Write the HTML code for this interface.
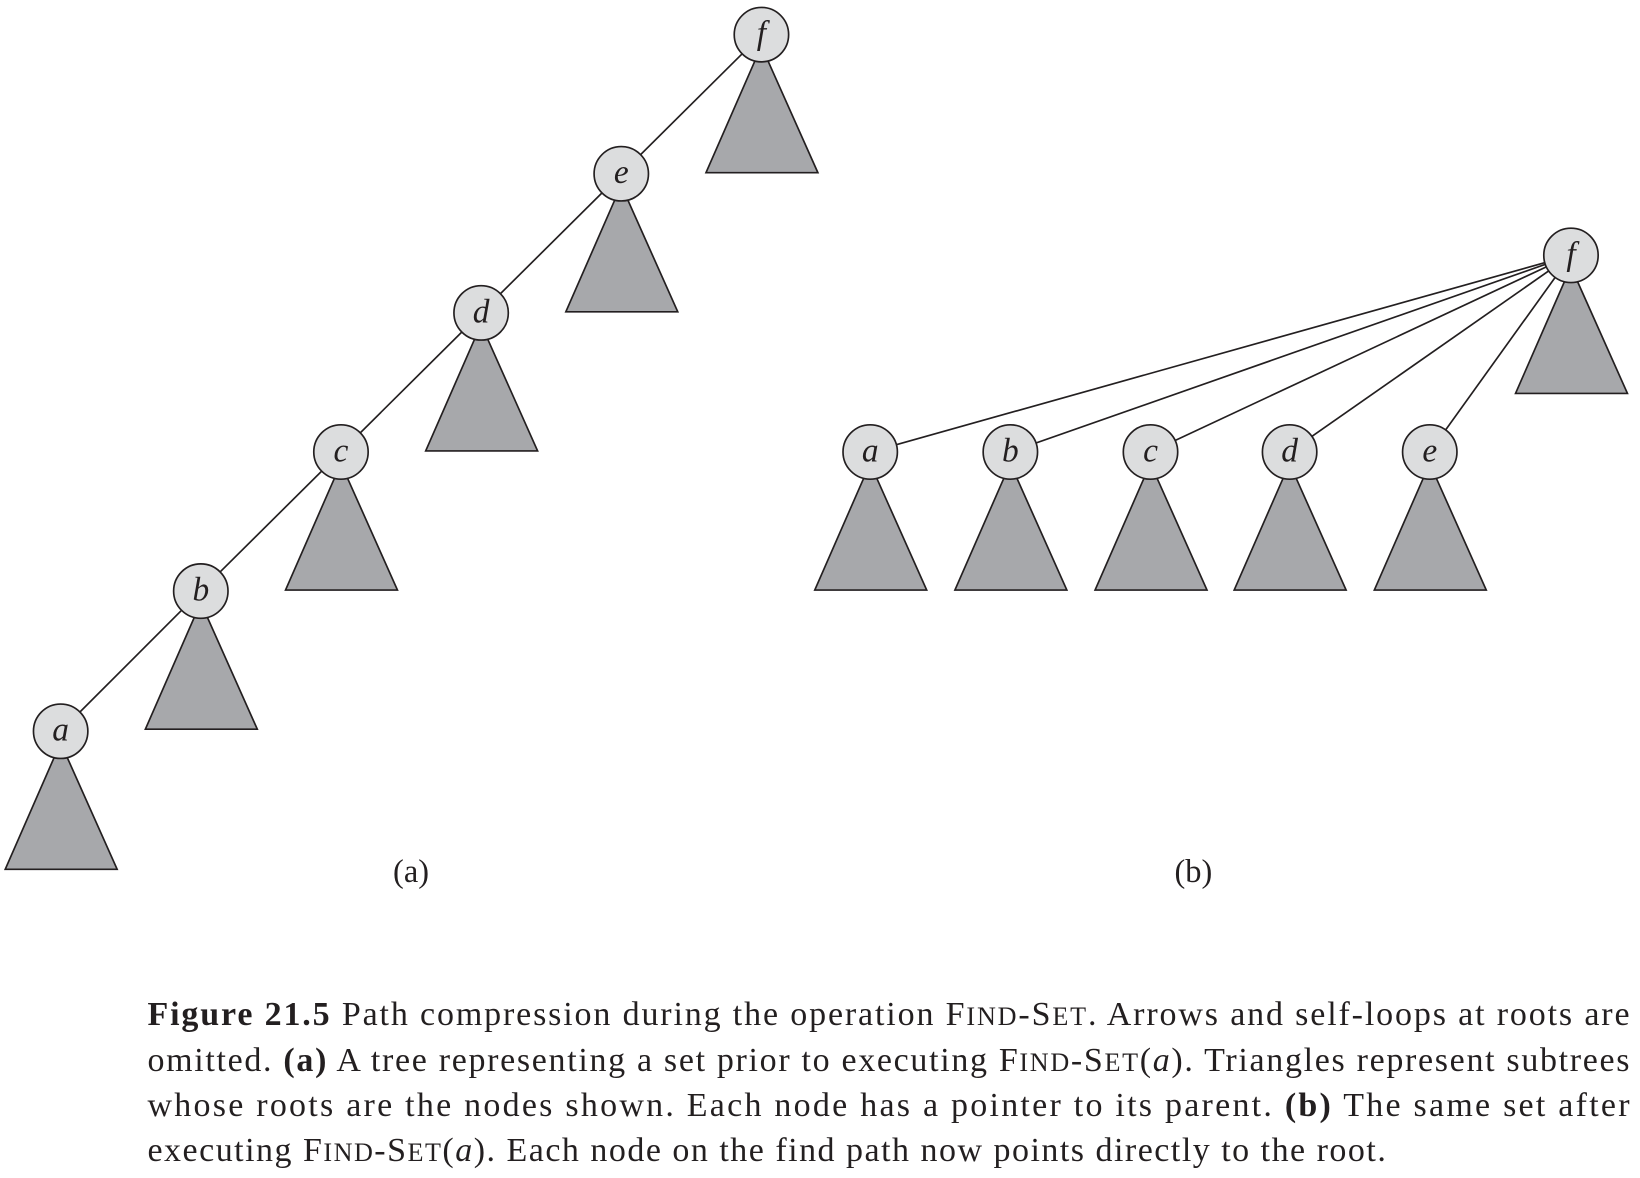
<!DOCTYPE html>
<html><head><meta charset="utf-8"><style>
html,body{margin:0;padding:0;background:#fff;}
svg{display:block;}
text{font-family:"Liberation Serif",serif;fill:#231f20;}
</style></head><body>
<svg width="1640" height="1178" viewBox="0 0 1568 1126" xmlns="http://www.w3.org/2000/svg">
<g id="g"></g>
<text x="393" y="843" font-size="31" text-anchor="middle">(a)</text>
<text x="1141" y="843" font-size="31" text-anchor="middle">(b)</text>
<g font-size="32.5" xml:space="preserve">
<text x="141" y="980" textLength="1417" lengthAdjust="spacing"><tspan font-weight="bold">Figure 21.5</tspan>   Path compression during the operation F<tspan font-size="25">IND</tspan>-S<tspan font-size="25">ET</tspan>. Arrows and self-loops at roots are</text>
<text x="141" y="1024" textLength="1417" lengthAdjust="spacing">omitted. <tspan font-weight="bold">(a)</tspan> A tree representing a set prior to executing F<tspan font-size="25">IND</tspan>-S<tspan font-size="25">ET</tspan>(<tspan font-style="italic">a</tspan>). Triangles represent subtrees</text>
<text x="141" y="1067" textLength="1417" lengthAdjust="spacing">whose roots are the nodes shown.  Each node has a pointer to its parent.  <tspan font-weight="bold">(b)</tspan> The same set after</text>
<text x="141" y="1110" textLength="1184" lengthAdjust="spacing">executing F<tspan font-size="25">IND</tspan>-S<tspan font-size="25">ET</tspan>(<tspan font-style="italic">a</tspan>). Each node on the find path now points directly to the root.</text>
</g>
</svg>
<script>
const labelsA=['a','b','c','d','e','f'];
const xsA=[58,192,326,460,594,728];
const ysA=[699,565,432,299,166,33];
const labelsB=['a','b','c','d','e'];
const xsB=[832,966,1100,1233,1367];
const yB=432;
const rootB=[1502,244];
const NS='http://www.w3.org/2000/svg';
const g=document.getElementById('g');
function el(t,a){const e=document.createElementNS(NS,t);for(const k in a)e.setAttribute(k,a[k]);g.appendChild(e);return e;}
function tri(x,y,name){const e=el('polygon',{points:`${x-4},${y+20} ${x+4},${y+20} ${x+54},${y+132} ${x-53},${y+132}`,fill:'#a7a8ab',stroke:'#231f20','stroke-width':1.6});

}
function edge(x1,y1,x2,y2,name){const e=el('line',{x1,y1,x2,y2,stroke:'#231f20','stroke-width':1.6});

}
function node(x,y,l,name){const c=el('circle',{cx:x,cy:y,r:26,fill:'#dcddde',stroke:'#231f20','stroke-width':1.6});


const t=el('text',{x:x,y:y+9,'font-size':32,'font-style':'italic','text-anchor':'middle'});t.textContent=l;

}
for(let i=0;i<labelsA.length;i++){tri(xsA[i],ysA[i],'subtree-a-'+labelsA[i]);}
for(let i=0;i<labelsA.length-1;i++){edge(xsA[i],ysA[i],xsA[i+1],ysA[i+1],'edge-a-'+labelsA[i]);}
for(let i=0;i<labelsA.length;i++){node(xsA[i],ysA[i],labelsA[i],'node-a-'+labelsA[i]);}
tri(rootB[0],rootB[1],'subtree-b-f');
for(let i=0;i<labelsB.length;i++){tri(xsB[i],yB,'subtree-b-'+labelsB[i]);}
for(let i=0;i<labelsB.length;i++){edge(xsB[i],yB,rootB[0],rootB[1],'edge-b-'+labelsB[i]);}
node(rootB[0],rootB[1],'f','node-b-f');
for(let i=0;i<labelsB.length;i++){node(xsB[i],yB,labelsB[i],'node-b-'+labelsB[i]);}
</script>
</body></html>
